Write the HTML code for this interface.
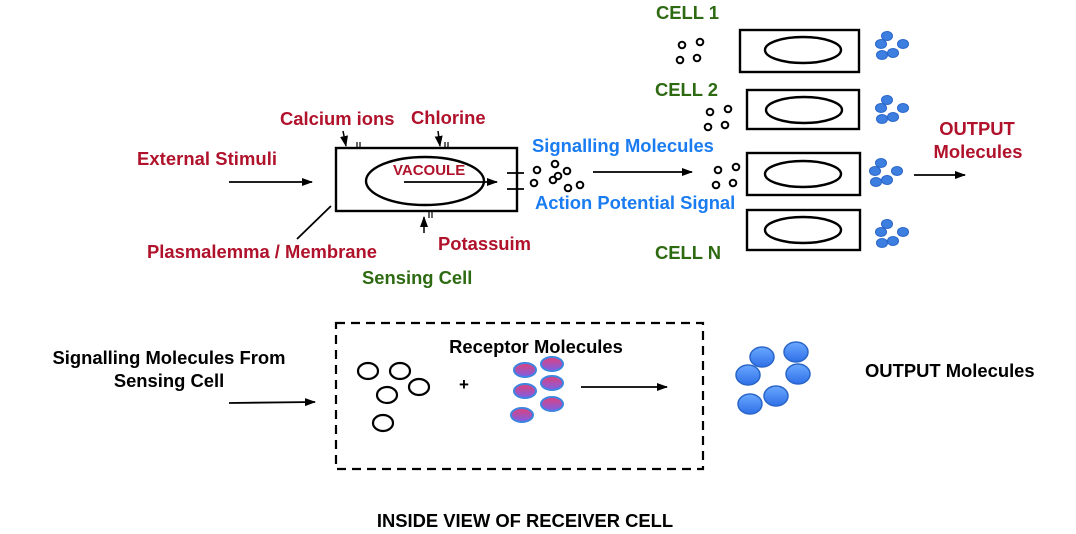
<!DOCTYPE html>
<html><head><meta charset="utf-8"><style>
html,body{margin:0;padding:0;background:#fff}
svg{display:block}
text{font-family:"Liberation Sans",sans-serif;font-weight:bold}
.r{fill:#b0122b}.g{fill:#2e6a12}.b{fill:#1a7cf0}.k{fill:#000}
</style></head><body>
<svg width="1076" height="534" viewBox="0 0 1076 534" xmlns="http://www.w3.org/2000/svg">
<defs>
<marker id="ah" markerWidth="11" markerHeight="8" refX="10" refY="4" orient="auto" markerUnits="userSpaceOnUse"><path d="M0,0 L11,4 L0,8z" fill="#000"/></marker>
<linearGradient id="pk" x1="0" y1="0" x2="0" y2="1"><stop offset="0" stop-color="#e0407a"/><stop offset="1" stop-color="#7a60e8"/></linearGradient>
<linearGradient id="bl" x1="0" y1="0" x2="0" y2="1"><stop offset="0" stop-color="#6aa8ff"/><stop offset="1" stop-color="#2f6fe8"/></linearGradient>
<g id="cl"><g fill="#3d7fe0" stroke="#2a66c8" stroke-width="1">
<ellipse cx="0" cy="0" rx="5.5" ry="4.5"/><ellipse cx="-6" cy="8" rx="5.5" ry="4.5"/><ellipse cx="16" cy="8" rx="5.5" ry="4.5"/><ellipse cx="6" cy="17" rx="5.5" ry="4.5"/><ellipse cx="-5" cy="19" rx="5.5" ry="4.5"/></g></g>
<g id="oc" fill="none" stroke="#000" stroke-width="2"><circle cx="0" cy="0" r="3.3"/><circle cx="18" cy="-3" r="3.3"/><circle cx="-2" cy="15" r="3.3"/><circle cx="15" cy="13" r="3.3"/></g>
</defs>

<!-- top section -->
<text x="137" y="165" font-size="18.4" class="r" textLength="140">External Stimuli</text>
<line x1="229" y1="182" x2="312" y2="182" stroke="#000" stroke-width="1.8" marker-end="url(#ah)"/>
<text x="280" y="125" font-size="18.4" class="r">Calcium ions</text>
<text x="411" y="124" font-size="18.4" class="r">Chlorine</text>
<rect x="336" y="148" width="181" height="63" fill="none" stroke="#000" stroke-width="2.4"/>
<ellipse cx="425" cy="181" rx="59" ry="24" fill="none" stroke="#000" stroke-width="2.4"/>
<text x="393" y="175" font-size="15" class="r">VACOULE</text>
<line x1="404" y1="182" x2="497" y2="182" stroke="#000" stroke-width="1.8" marker-end="url(#ah)"/>
<line x1="343" y1="131" x2="346" y2="146" stroke="#000" stroke-width="1.5" marker-end="url(#ah)"/>
<line x1="357" y1="142" x2="357" y2="148" stroke="#000" stroke-width="1.2"/><line x1="360" y1="142" x2="360" y2="148" stroke="#000" stroke-width="1.2"/>
<line x1="438" y1="131" x2="440" y2="146" stroke="#000" stroke-width="1.5" marker-end="url(#ah)"/>
<line x1="445" y1="142" x2="445" y2="148" stroke="#000" stroke-width="1.2"/><line x1="448" y1="142" x2="448" y2="148" stroke="#000" stroke-width="1.2"/>
<line x1="424" y1="233" x2="424" y2="217" stroke="#000" stroke-width="1.5" marker-end="url(#ah)"/>
<line x1="429" y1="211" x2="429" y2="218" stroke="#000" stroke-width="1.2"/><line x1="432" y1="211" x2="432" y2="218" stroke="#000" stroke-width="1.2"/>
<line x1="507" y1="173" x2="524" y2="173" stroke="#000" stroke-width="1.8"/>
<line x1="507" y1="189" x2="524" y2="189" stroke="#000" stroke-width="1.8"/>
<line x1="331" y1="206" x2="297" y2="239" stroke="#000" stroke-width="1.8"/>
<text x="147" y="258" font-size="18.4" class="r">Plasmalemma / Membrane</text>
<text x="438" y="250" font-size="18.4" class="r">Potassuim</text>
<text x="362" y="284" font-size="18.4" class="g">Sensing Cell</text>
<g fill="none" stroke="#000" stroke-width="2">
<circle cx="537" cy="170" r="3.3"/><circle cx="555" cy="164" r="3.3"/><circle cx="567" cy="171" r="3.3"/>
<circle cx="534" cy="183" r="3.3"/><circle cx="553" cy="180" r="3.3"/><circle cx="558" cy="176" r="3.3"/><circle cx="568" cy="188" r="3.3"/><circle cx="580" cy="185" r="3.3"/></g>
<text x="532" y="152" font-size="18.4" class="b">Signalling Molecules</text>
<text x="535" y="209" font-size="18.4" class="b">Action Potential Signal</text>
<line x1="593" y1="172" x2="692" y2="172" stroke="#000" stroke-width="1.8" marker-end="url(#ah)"/>

<!-- cells -->
<text x="656" y="19" font-size="18.4" class="g">CELL 1</text>
<text x="655" y="96" font-size="18.4" class="g">CELL 2</text>
<text x="655" y="259" font-size="18.4" class="g">CELL N</text>
<use href="#oc" x="682" y="45"/>
<use href="#oc" x="710" y="112"/>
<use href="#oc" x="718" y="170"/>
<rect x="740" y="30" width="119" height="42" fill="none" stroke="#000" stroke-width="2.4"/>
<ellipse cx="803" cy="50" rx="38" ry="13" fill="none" stroke="#000" stroke-width="2.4"/>
<rect x="747" y="90" width="112" height="39" fill="none" stroke="#000" stroke-width="2.4"/>
<ellipse cx="804" cy="110" rx="38" ry="13" fill="none" stroke="#000" stroke-width="2.4"/>
<rect x="747" y="153" width="113" height="42" fill="none" stroke="#000" stroke-width="2.4"/>
<ellipse cx="803" cy="174" rx="38" ry="13" fill="none" stroke="#000" stroke-width="2.4"/>
<rect x="747" y="210" width="113" height="40" fill="none" stroke="#000" stroke-width="2.4"/>
<ellipse cx="803" cy="230" rx="38" ry="13" fill="none" stroke="#000" stroke-width="2.4"/>
<use href="#cl" x="887" y="36"/>
<use href="#cl" x="887" y="100"/>
<use href="#cl" x="881" y="163"/>
<use href="#cl" x="887" y="224"/>
<line x1="914" y1="175" x2="965" y2="175" stroke="#000" stroke-width="1.8" marker-end="url(#ah)"/>
<text x="977" y="135" font-size="18.4" class="r" text-anchor="middle">OUTPUT</text>
<text x="978" y="158" font-size="18.4" class="r" text-anchor="middle">Molecules</text>

<!-- bottom section -->
<text x="169" y="364" font-size="18.4" class="k" text-anchor="middle">Signalling Molecules From</text>
<text x="169" y="387" font-size="18.4" class="k" text-anchor="middle">Sensing Cell</text>
<line x1="229" y1="403" x2="315" y2="402" stroke="#000" stroke-width="1.8" marker-end="url(#ah)"/>
<rect x="336" y="323" width="367" height="146" fill="none" stroke="#000" stroke-width="2.2" stroke-dasharray="9,6"/>
<text x="536" y="353" font-size="18.4" class="k" text-anchor="middle">Receptor Molecules</text>
<g fill="none" stroke="#000" stroke-width="2.2">
<ellipse cx="368" cy="371" rx="10" ry="8"/><ellipse cx="400" cy="371" rx="10" ry="8"/>
<ellipse cx="419" cy="387" rx="10" ry="8"/><ellipse cx="387" cy="395" rx="10" ry="8"/><ellipse cx="383" cy="423" rx="10" ry="8"/></g>
<text x="464" y="390" font-size="17" class="k" text-anchor="middle">+</text>
<g fill="url(#pk)" stroke="#3d85e0" stroke-width="2">
<ellipse cx="525" cy="370" rx="11" ry="7"/><ellipse cx="552" cy="364" rx="11" ry="7"/>
<ellipse cx="525" cy="391" rx="11" ry="7"/><ellipse cx="552" cy="383" rx="11" ry="7"/>
<ellipse cx="552" cy="404" rx="11" ry="7"/><ellipse cx="522" cy="415" rx="11" ry="7"/></g>
<line x1="581" y1="387" x2="667" y2="387" stroke="#000" stroke-width="1.8" marker-end="url(#ah)"/>
<g fill="url(#bl)" stroke="#2a66c8" stroke-width="1.5">
<ellipse cx="762" cy="357" rx="12" ry="10"/><ellipse cx="796" cy="352" rx="12" ry="10"/>
<ellipse cx="748" cy="375" rx="12" ry="10"/><ellipse cx="798" cy="374" rx="12" ry="10"/>
<ellipse cx="776" cy="396" rx="12" ry="10"/><ellipse cx="750" cy="404" rx="12" ry="10"/></g>
<text x="865" y="377" font-size="18.4" class="k">OUTPUT Molecules</text>
<text x="525" y="527" font-size="18.4" class="k" text-anchor="middle">INSIDE VIEW OF RECEIVER CELL</text>
</svg>
</body></html>
